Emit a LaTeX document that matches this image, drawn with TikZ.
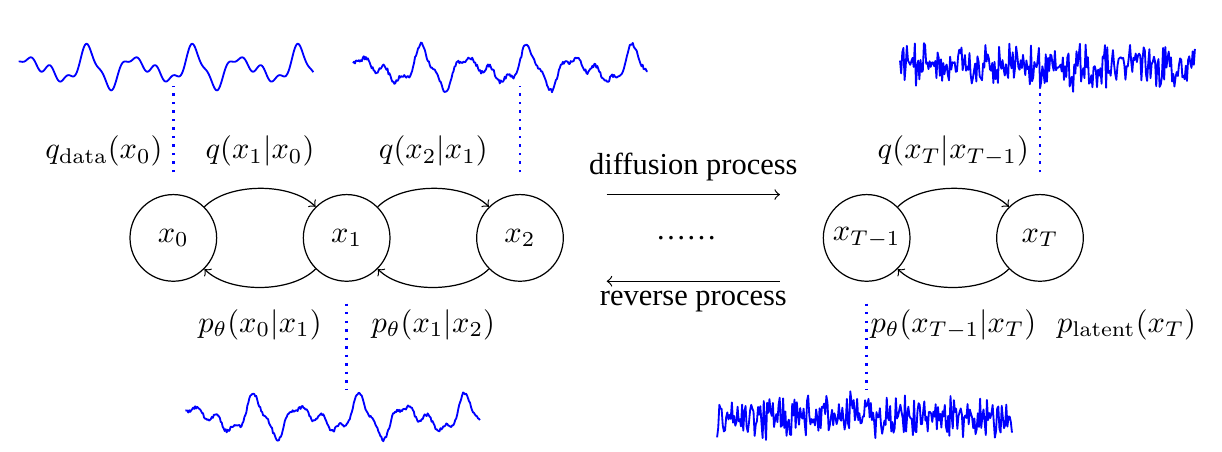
\documentclass[tikz,border=0pt]{standalone}
\usepackage[no-math]{fontspec}
\setmainfont{Liberation Serif}

\begin{document}
\begin{tikzpicture}[
  var/.style={circle, draw, minimum size=1cm, inner sep=0pt},
  wave/.style={blue, line width=0.6pt, line join=round},
  guide/.style={blue, thick, dotted},
  % clean signal x_0 as a short Fourier series, phase \p in degrees
  declare function={sig(\p)=0.0096*cos(\p)+0.0037*sin(\p)
      +0.1458*cos(2*\p)-0.0108*sin(2*\p)+0.0700*cos(3*\p)+0.0480*sin(3*\p)
      +0.0100*cos(5*\p)+0.0501*cos(6*\p)-0.0170*sin(6*\p);
    gauss=0.15*(rand+rand);}]
  \useasboundingbox (-2,-2.47) rectangle (12.1,2.745);
  \pgfmathsetseed{42}

  % ---------- Markov chain ----------
  \node[var] (x0)  at (0,0)  {$x_0$};
  \node[var] (x1)  at (2,0)  {$x_1$};
  \node[var] (x2)  at (4,0)  {$x_2$};
  \node[var] (xTm) at (8,0)  {$x_{T-1}$};
  \node[var] (xT)  at (10,0) {$x_T$};

  \foreach \a/\b in {x0/x1, x1/x2, xTm/xT}{
    \draw[->] (\a) to[bend left=45, looseness=0.8] (\b);
    \draw[->] (\b) to[bend left=45, looseness=0.8] (\a);}

  % ---------- transition labels ----------
  \node[left] (qdata) at (0,1) {$q_{\mathrm{data}}(x_0)$};
  \node (q10)  at (1,1)  {$q(x_1|x_0)$};
  \node (q21)  at (3,1)  {$q(x_2|x_1)$};
  \node (qT)   at (9,1)  {$q(x_T|x_{T-1})$};
  \node (p01)  at (1,-1) {$p_\theta(x_0|x_1)$};
  \node (p12)  at (3,-1) {$p_\theta(x_1|x_2)$};
  \node (pT)   at (9,-1) {$p_\theta(x_{T-1}|x_T)$};
  \node (plat) at (11,-1) {$p_{\mathrm{latent}}(x_T)$};

  % ---------- middle: processes ----------
  \node (gap) at (5.92,0) {\dots\dots};
  \coordinate (fwdA) at (5,0.5);  \coordinate (fwdB) at (7,0.5);
  \coordinate (revA) at (7,-0.5); \coordinate (revB) at (5,-0.5);
  \draw[->] (fwdA) -- (fwdB);
  \draw[->] (revA) -- (revB);
  \node (fwd) at (6,0.82)  {diffusion process};
  \node (rev) at (6,-0.73) {reverse process};

  % ---------- dotted guides to the samples ----------
  \foreach \n in {x0,x2,xT}  \draw[guide] (\n.north) ++(0,0.25) -- ++(0,1);
  \foreach \n in {x1,xTm}    \draw[guide] (\n.south) ++(0,-0.25) -- ++(0,-1);

  % ---------- samples ----------
  \begin{scope}[shift={(-1.784,1.955)}]
    \draw[wave] plot[domain=0:3.403, samples=300] (\x,{sig(295.3*(\x+0.438))});
  \end{scope}
  \begin{scope}[shift={(2.073,1.95)}]
    \draw[wave] plot[domain=0:3.403, samples=300] (\x,{sig(295.3*(\x+0.438))+0.022*rand});
  \end{scope}
  \begin{scope}[shift={(0.138,-2.075)}]
    \draw[wave] plot[domain=0:3.403, samples=300] (\x,{sig(295.3*(\x+0.438))+0.02*rand});
  \end{scope}
  \begin{scope}[shift={(8.385,1.976)}]
    \draw[wave] plot[domain=0:3.403, samples=260] (\x,{gauss});
  \end{scope}
  \begin{scope}[shift={(6.274,-2.06)}]
    \draw[wave] plot[domain=0:3.403, samples=260] (\x,{gauss});
  \end{scope}

\end{tikzpicture}
\end{document}
